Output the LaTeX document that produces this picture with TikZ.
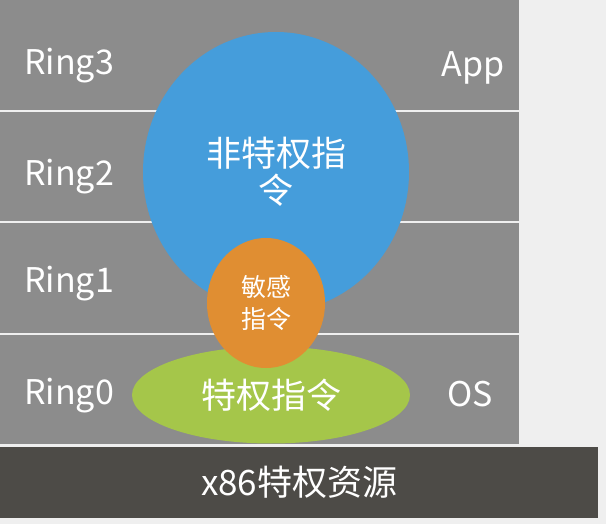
\documentclass[tikz,border=0pt]{standalone}
\usepackage{fontspec}
\setmainfont{Noto Sans CJK SC}
\usetikzlibrary{positioning, shapes.geometric}

\definecolor{ringgray}{HTML}{8C8C8C}
\definecolor{backgray}{HTML}{EFEFEF}
\definecolor{basegray}{HTML}{4D4B47}
\definecolor{userblue}{HTML}{459DDB}
\definecolor{senseorange}{HTML}{E08E32}
\definecolor{privgreen}{HTML}{A5C64A}

\tikzset{
    ringrow/.style={rectangle, fill=ringgray, inner sep=0pt, minimum width=519pt, minimum height=109.5pt, anchor=north west},
    ringtext/.style={text=white, font=\fontsize{34}{38}\selectfont, inner sep=0pt},
    blob/.style={ellipse, inner sep=0pt, align=center, text=white}
}

\begin{document}
\begin{tikzpicture}[x=1pt, y=-1pt]
    \fill [backgray] (0, 0) rectangle (606, 524);
    \useasboundingbox (0, 0) rectangle (606, 524);
    \node (ring3) [ringrow] at (0, 0) {};
    \node (ring2) [ringrow] at (0, 111.5) {};
    \node (ring1) [ringrow] at (0, 223) {};
    \node (ring0) [ringrow] at (0, 334.5) {};
    \node (base) [rectangle, fill=basegray, inner sep=0pt, minimum width=598pt, minimum height=71pt, anchor=north west, text=white, font=\fontsize{35}{40}\selectfont] at (0, 447) {x86特权资源};
    \node (r3) [ringtext, right=24pt of ring3.west, yshift=-11pt] {Ring3};
    \node (r2) [ringtext, right=24pt of ring2.west, yshift=-10pt] {Ring2};
    \node (r1) [ringtext, right=24pt of ring1.west, yshift=-6pt] {Ring1};
    \node (r0) [ringtext, right=24pt of ring0.west, yshift=-6pt] {Ring0};
    \node (app) [ringtext, left=15pt of ring3.east, yshift=-13pt] {App};
    \node (os) [ringtext, left=26pt of ring0.east, yshift=-5pt] {OS};
    \node (user) [blob, fill=userblue, minimum width=266pt, minimum height=280pt, font=\fontsize{35}{37}\selectfont] at (276, 172) {非特权指\\令};
    \node (priv) [blob, fill=privgreen, minimum width=278pt, minimum height=97pt, font=\fontsize{35}{40}\selectfont] at (271, 395) {特权指令};
    \node (sense) [blob, fill=senseorange, minimum width=118pt, minimum height=130pt, font=\fontsize{25}{32}\selectfont] at (266, 303) {敏感\\指令};
\end{tikzpicture}
\end{document}
